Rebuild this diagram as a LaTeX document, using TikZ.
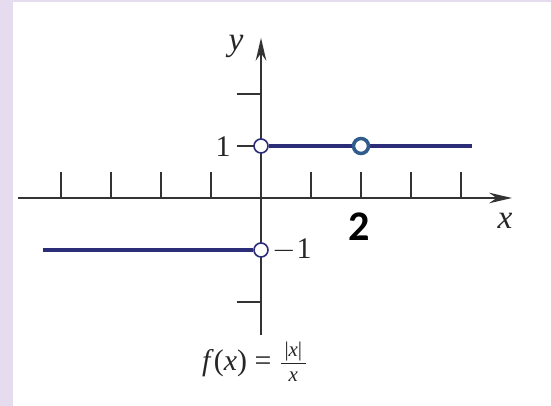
\documentclass[tikz,border=0pt]{standalone}
\usepackage{amsmath}
\usepackage{fontspec}
\setmainfont{Liberation Serif}
\newfontfamily\markfont{Carlito}
\usetikzlibrary{arrows.meta, positioning}
\definecolor{bglilac}{HTML}{E6DCEF}
\definecolor{plotnavy}{HTML}{2B2D79}
\definecolor{holeblue}{HTML}{2F5C8C}
\definecolor{axisgray}{HTML}{333333}

\begin{document}
\begin{tikzpicture}[x=1cm, y=1.04cm,
  axis/.style={line width=1.1pt, axisgray, -{Stealth[length=13pt, width=6pt]}},
  tick/.style={line width=0.8pt, axisgray},
  graph/.style={line width=1.8pt, plotnavy},
  hole/.style={circle, draw=plotnavy, fill=white, line width=0.9pt,
    minimum size=0.28cm, inner sep=0pt},
  bighole/.style={circle, draw=holeblue, fill=white, line width=2pt,
    minimum size=0.3cm, inner sep=0pt},
  lbl/.style={font=\fontsize{17}{19}\selectfont, text=black!85, inner sep=1pt},
  varlbl/.style={font=\fontsize{19}{21}\selectfont\itshape, text=black!85, inner sep=1pt}
]
  % Background
  \useasboundingbox (-5.22cm, -4.16cm) rectangle (5.80cm, 3.96cm);
  \fill[bglilac] (-5.22cm, -4.16cm) rectangle (5.80cm, 3.96cm);
  \fill[white] (-4.96cm, -4.16cm) rectangle (5.80cm, 3.92cm);

  % Axes
  \coordinate (xl) at (-4.86, 0);
  \coordinate (xr) at (5.02, 0);
  \coordinate (yb) at (0, -2.63);
  \coordinate (yt) at (0, 3.08);
  \draw[axis] (xl) -- (xr);
  \draw[axis] (yb) -- (yt);

  % Ticks
  \foreach \i in {-4,-3,-2,-1,1,2,3,4}
    \draw[tick] (\i, 0) -- (\i, 0.5);
  \foreach \j in {-2,1,2}
    \draw[tick] (-0.48, \j) -- (0, \j);

  % Graph
  \coordinate (rend) at (4.22, 1);
  \coordinate (lend) at (-4.36, -1);
  \node[hole] (up0) at (0, 1) {};
  \node[hole] (dn0) at (0, -1) {};
  \draw[graph] (up0) -- (rend);
  \draw[graph] (lend) -- (dn0);
  \node[bighole] (hole2) at (2, 1) {};

  % Labels
  \node[varlbl] (ylab) at (-0.5, 2.92) {y};
  \node[varlbl] (xlab) at (4.88, -0.44) {x};
  \node[lbl] (one) at (-0.76, 0.98) {1};
  \node[lbl, right=0.04cm of dn0] (mone) {$-$1};
  \node[font=\markfont\bfseries\fontsize{24}{26}\selectfont] (two) at (1.96, -0.56) {2};
  \node[lbl] (fx) at (-0.12, -3.15)
    {\textit{f}(\textit{x}) = $\frac{\,\text{|\textit{x}|}\,}{\text{\textit{x}}}$};
\end{tikzpicture}
\end{document}
